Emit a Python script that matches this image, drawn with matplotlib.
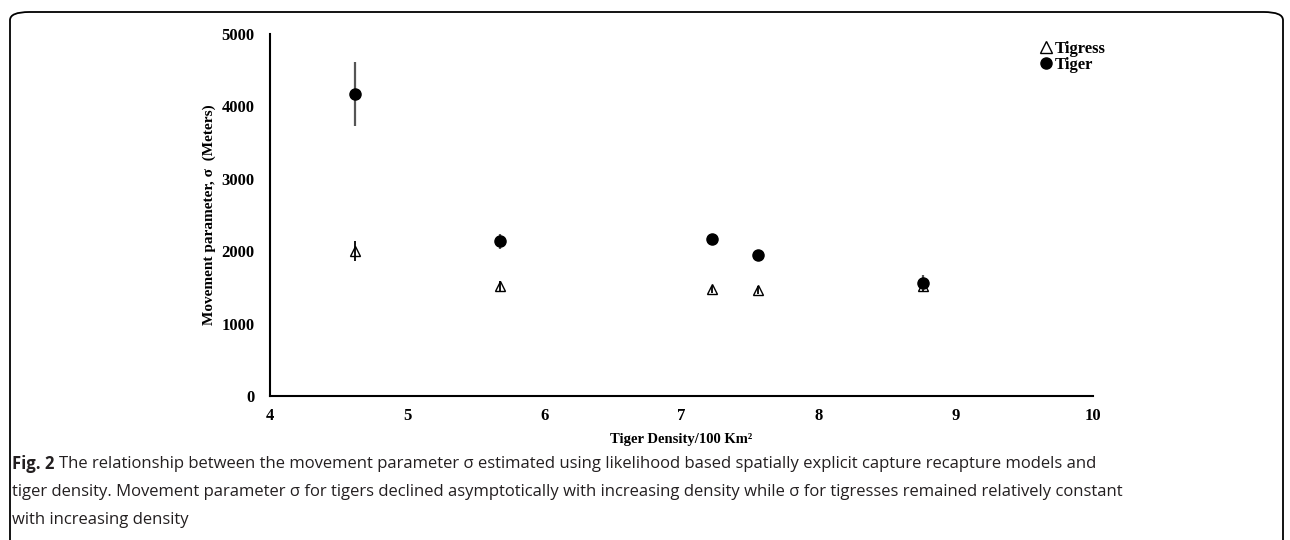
import matplotlib
matplotlib.use("Agg")
import matplotlib.pyplot as plt
from matplotlib.patches import FancyBboxPatch
from matplotlib.lines import Line2D

# Data
density = [4.62, 5.68, 7.22, 7.56, 8.76]
tiger_sigma = [4167, 2137, 2164, 1952, 1565]
tiger_err = [440, 100, 60, 60, 100]
tigress_sigma = [2007, 1519, 1474, 1464, 1520]
tigress_err = [140, 70, 50, 60, 70]
x_ticks = [4, 5, 6, 7, 8, 9, 10]
y_ticks = [0, 1000, 2000, 3000, 4000, 5000]

serif = ['Liberation Serif', 'DejaVu Serif']
fig = plt.figure(figsize=(12.9, 5.4), dpi=100)

# outer rounded frame
frame = FancyBboxPatch((10/1290, -0.2), 1273/1290, 0.2 + (540-12)/540,
                       boxstyle="round,pad=0,rounding_size=0.015",
                       transform=fig.transFigure, fill=False, edgecolor='black',
                       linewidth=1.3, mutation_aspect=540/1290*2.4)
fig.patches.append(frame)

ax = fig.add_axes([270/1290, (540-396)/540, (1093-270)/1290, (396-34)/540])
ax.errorbar(density, tigress_sigma, yerr=tigress_err, fmt='^', mfc='none', mec='black',
            mew=1.0, ms=7.5, ecolor='black', elinewidth=1.3, capsize=0, zorder=3)
ax.errorbar(density, tiger_sigma, yerr=tiger_err, fmt='o', color='black', ms=8,
            ecolor='#555555', elinewidth=1.6, capsize=0, zorder=4)

ax.set_xlim(4, 10)
ax.set_ylim(0, 5000)
ax.set_xticks(x_ticks)
ax.set_yticks(y_ticks)
for lab in ax.get_xticklabels() + ax.get_yticklabels():
    lab.set_fontfamily(serif)
    lab.set_fontweight('bold')
    lab.set_fontsize(12)
ax.tick_params(axis='x', length=0, pad=9)
ax.tick_params(axis='y', length=0, pad=11)
for s in ['top', 'right']:
    ax.spines[s].set_visible(False)
for s in ['left', 'bottom']:
    ax.spines[s].set_linewidth(1.5)

ax.set_xlabel('Tiger Density/100 Km²', fontfamily=serif, fontweight='bold',
              fontsize=10.5, labelpad=6)
ax.set_ylabel('Movement parameter, σ  (Meters)', fontfamily=serif, fontweight='bold',
              fontsize=11, labelpad=4)

handles = [Line2D([], [], marker='^', ls='none', mfc='none', mec='black', ms=8),
           Line2D([], [], marker='o', ls='none', color='black', ms=8)]
fig.legend(handles, ['Tigress', 'Tiger'], loc='upper left',
           bbox_to_anchor=(1033/1290, 1 - 33/540), frameon=False,
           prop={'family': serif, 'weight': 'bold', 'size': 12},
           handlelength=0.6, handletextpad=0.2, labelspacing=0.0, borderpad=0)

# caption
cap_font = ['Open Sans', 'DejaVu Sans']
cap_size = 11.95
lines_y = [464, 492, 520]
fig.canvas.draw()
r = fig.canvas.get_renderer()
t = fig.text(12/1290, 1 - lines_y[0]/540, 'Fig. 2', fontfamily=cap_font, fontweight='bold',
             fontsize=cap_size, va='center', ha='left', color='#231f20')
bb = t.get_window_extent(renderer=r)
fig.text((bb.x1 + 5)/1290, 1 - lines_y[0]/540,
         'The relationship between the movement parameter σ estimated using likelihood based spatially explicit capture recapture models and',
         fontfamily=cap_font, fontsize=cap_size, va='center', ha='left', color='#231f20')
fig.text(12/1290, 1 - lines_y[1]/540,
         'tiger density. Movement parameter σ for tigers declined asymptotically with increasing density while σ for tigresses remained relatively constant',
         fontfamily=cap_font, fontsize=cap_size, va='center', ha='left', color='#231f20')
fig.text(12/1290, 1 - lines_y[2]/540, 'with increasing density',
         fontfamily=cap_font, fontsize=cap_size, va='center', ha='left', color='#231f20')

fig.savefig('out.png', dpi=100)
